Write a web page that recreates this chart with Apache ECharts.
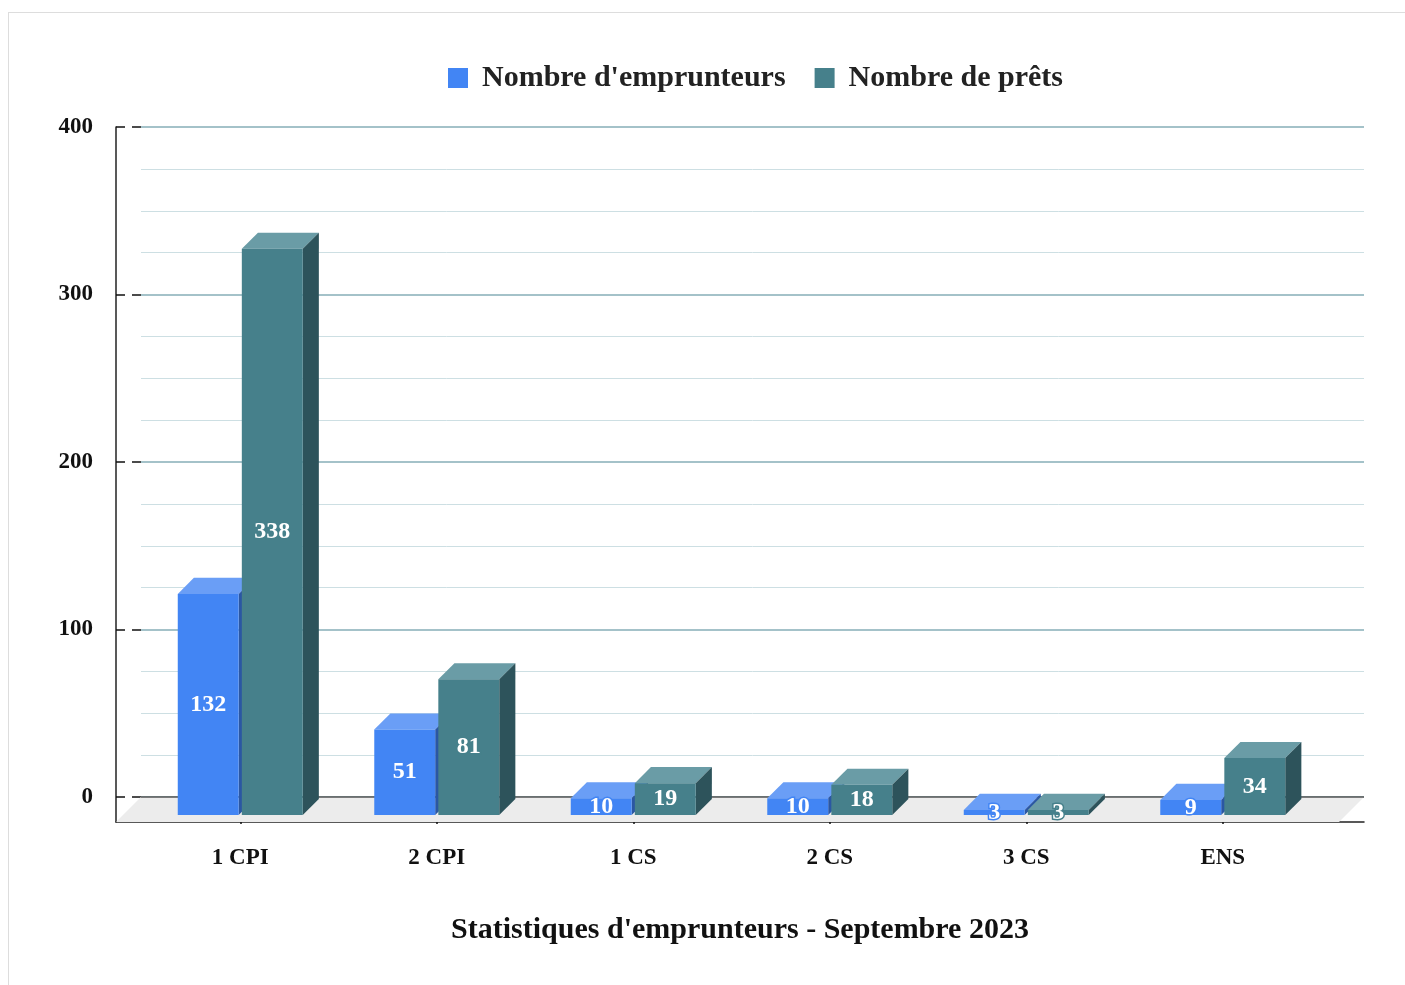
<!DOCTYPE html>
<html>
<head>
<meta charset="utf-8">
<script src="https://cdn.jsdelivr.net/npm/echarts@6/dist/echarts.min.js"></script>
<style>
  html, body { margin: 0; padding: 0; background: #fff; }
  #frame { position: absolute; left: 8px; top: 12px; width: 1500px; height: 1100px;
           border-left: 1px solid #ddd; border-top: 1px solid #ddd; }
  #chart { position: absolute; left: 0; top: 0; width: 1405px; height: 985px; }
</style>
</head>
<body>
<div id="frame"></div>
<div id="chart"></div>
<script>
const categories = ["1 CPI", "2 CPI", "1 CS", "2 CS", "3 CS", "ENS"];
const emprunteurs = [132, 51, 10, 10, 3, 9];
const prets = [338, 81, 19, 18, 3, 34];
const seriesNames = ["Nombre d'emprunteurs", "Nombre de prêts"];
const yTicks = [0, 400, 100]; // min, max, interval

const FONT = '"Liberation Serif", "Times New Roman", serif';

const palette = {
  blue: { front: "#4285f4", top: "#6a9ef6", side: "#2b57a3" },
  teal: { front: "#46808b", top: "#6a9ca6", side: "#2d535b" },
};

// draws one 3D box per category, side = -1 (left of tick) or +1 (right)
const barRenderer = (side, colors) => (params, api) => {
  const i = api.value(0);
  const v = api.value(1);
  const base = api.coord([i, 0]);
  const top = api.coord([i, v]);
  const band = api.size([1, 0])[0];
  const w = band * 0.31;
  const gap = band * 0.016;
  const d = band * 0.082;
  const x0 = side < 0 ? base[0] - gap / 2 - w : base[0] + gap / 2;
  const x1 = x0 + w;
  const yT = top[1], yB = base[1];
  return {
    type: "group",
    children: [
      { type: "polygon", shape: { points: [[x0, yT], [x0 + d, yT - d], [x1 + d, yT - d], [x1, yT]] },
        style: { fill: colors.top } },
      { type: "polygon", shape: { points: [[x1, yT], [x1 + d, yT - d], [x1 + d, yB - d], [x1, yB]] },
        style: { fill: colors.side } },
      { type: "rect", shape: { x: x0, y: yT, width: w, height: yB - yT },
        style: { fill: colors.front } },
      { type: "text", z2: 10,
        style: { text: String(v), x: (x0 + x1) / 2, y: (yT + yB) / 2, align: "center", verticalAlign: "middle",
                 fill: "#fff", stroke: colors.front, lineWidth: 3,
                 font: "bold 24px " + FONT } },
    ],
  };
};

// floor below the back wall
const floorRenderer = (params, api) => {
  const p0 = api.coord([0, 0]);
  const p1 = api.coord([1, 0]);
  const depth = 25;
  return {
    type: "group",
    children: [
      { type: "polygon",
        shape: { points: [p0, p1, [p1[0] - depth, p1[1] + depth], [p0[0] - depth, p0[1] + depth]] },
        style: { fill: "#ececec" } },
      { type: "line", shape: { x1: p0[0], y1: p0[1], x2: p1[0], y2: p1[1] },
        style: { stroke: "#555", lineWidth: 1.5 } },
    ],
  };
};

const chart = echarts.init(document.getElementById("chart"));

const hiddenValueAxis = (grid, extra) => Object.assign({
  type: "value", gridIndex: grid, show: false,
}, extra || {});

const option = {
  animation: false,
  color: [palette.blue.front, palette.teal.front],
  title: {
    text: "Statistiques d'emprunteurs - Septembre 2023",
    left: 740, top: 915, textAlign: "center", padding: 0,
    textStyle: { fontFamily: FONT, fontWeight: "bold", fontSize: 30, color: "#111" },
  },
  legend: {
    data: seriesNames,
    left: 448, top: 63, padding: 0,
    icon: "rect", itemWidth: 20, itemHeight: 20, itemGap: 29,
    textStyle: { fontFamily: FONT, fontWeight: "bold", fontSize: 30, color: "#222", padding: [0, 0, 0, 9] },
  },
  grid: [
    { left: 141, right: 41, top: 127, bottom: 188 }, // back wall
    { left: 142, right: 84, top: 145, bottom: 170 }, // bars (front)
    { left: 116, right: 41, top: 127, bottom: 163 }, // axis frame
  ],
  xAxis: [
    hiddenValueAxis(0, { min: 0, max: 1 }),
    {
      type: "category", gridIndex: 1, data: categories, offset: 7, position: "bottom",
      axisLine: { show: false },
      axisTick: { show: true, alignWithLabel: true, length: 9, lineStyle: { color: "#111", width: 1.5 } },
      axisLabel: { margin: 25, fontFamily: FONT, fontWeight: "bold", fontSize: 23, color: "#111" },
    },
    {
      type: "value", gridIndex: 2, min: 0, max: 1, position: "bottom",
      axisLine: { show: true, onZero: false, lineStyle: { color: "#222", width: 1.5 } },
      axisTick: { show: false }, axisLabel: { show: false }, splitLine: { show: false },
    },
    {
      type: "category", gridIndex: 1, data: categories, offset: 7, position: "bottom",
      axisLine: { show: false },
      axisTick: { show: true, inside: true, alignWithLabel: true, length: 9, lineStyle: { color: "#111", width: 1.5 } },
      axisLabel: { show: false },
    },
  ],
  yAxis: [
    {
      type: "value", gridIndex: 0, min: yTicks[0], max: yTicks[1], interval: yTicks[2], offset: 25, position: "left",
      axisLine: { show: false },
      axisTick: { show: true, length: 9, lineStyle: { color: "#111", width: 1.5 } },
      axisLabel: { margin: 23, fontFamily: FONT, fontWeight: "bold", fontSize: 23, color: "#111" },
      splitLine: { show: true, lineStyle: { color: "#86aeb7", width: 1.5 } },
      minorTick: { show: false, splitNumber: 4 },
      minorSplitLine: { show: true, lineStyle: { color: "#cddfe3", width: 1 } },
    },
    hiddenValueAxis(1, { min: yTicks[0], max: yTicks[1] }),
    {
      type: "value", gridIndex: 2, min: 0, max: 1, position: "left",
      axisLine: { show: true, onZero: false, lineStyle: { color: "#222", width: 1.5 } },
      axisTick: { show: false }, axisLabel: { show: false }, splitLine: { show: false },
    },
    {
      type: "value", gridIndex: 0, min: yTicks[0], max: yTicks[1], interval: yTicks[2], offset: 25, position: "left",
      axisLine: { show: false },
      axisTick: { show: true, inside: true, length: 9, lineStyle: { color: "#111", width: 1.5 } },
      axisLabel: { show: false }, splitLine: { show: false },
    },
  ],
  series: [
    {
      type: "custom", name: "floor", silent: true, z: 1,
      xAxisIndex: 0, yAxisIndex: 0,
      data: [[0, 0]],
      renderItem: floorRenderer,
    },
    {
      type: "custom", name: seriesNames[0], z: 3,
      xAxisIndex: 1, yAxisIndex: 1,
      itemStyle: { color: palette.blue.front },
      encode: { x: 0, y: 1 },
      data: categories.map((c, i) => [i, emprunteurs[i]]),
      renderItem: barRenderer(-1, palette.blue),
    },
    {
      type: "custom", name: seriesNames[1], z: 4,
      xAxisIndex: 1, yAxisIndex: 1,
      itemStyle: { color: palette.teal.front },
      encode: { x: 0, y: 1 },
      data: categories.map((c, i) => [i, prets[i]]),
      renderItem: barRenderer(1, palette.teal),
    },
  ],
};

chart.setOption(option);
</script>
</body>
</html>
